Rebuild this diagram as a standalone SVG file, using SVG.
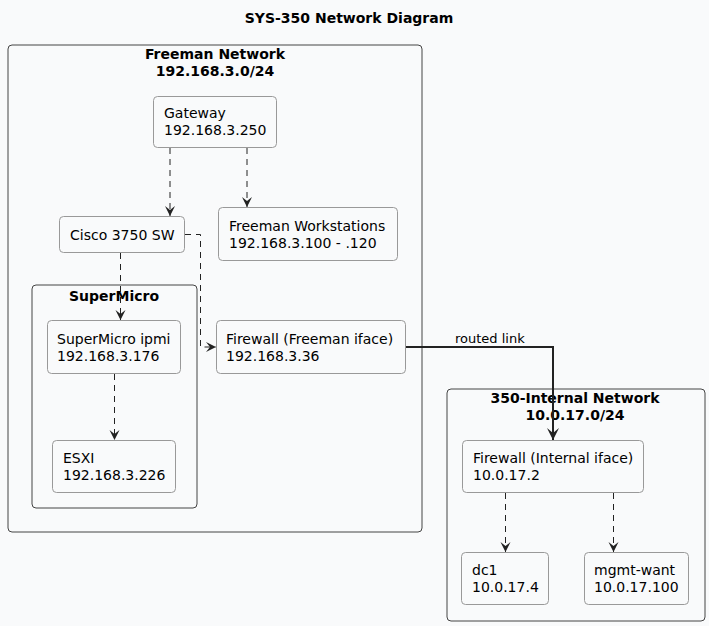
<svg xmlns="http://www.w3.org/2000/svg" width="709" height="626" viewBox="0 0 709 626">
<defs>
<style>
text{font-family:"DejaVu Sans","Liberation Sans",sans-serif;font-size:14px;fill:#000}
.b{font-weight:bold}
.title{font-weight:bold;font-size:14px}
.cl{fill:none;stroke:#444;stroke-width:1}
.nd{fill:#F9FAFB;stroke:#999;stroke-width:1}
.e{fill:none;stroke:#222;stroke-width:1;stroke-dasharray:6,5}
.s{fill:none;stroke:#222;stroke-width:2}
</style>
<marker id="a" markerUnits="userSpaceOnUse" markerWidth="14" markerHeight="14" viewBox="-12 -7 14 14" refX="0" refY="0" orient="auto">
<path d="M0,0 L-10,-5 L-6,0 L-10,5 Z" fill="#222"/>
</marker>
<marker id="a2" markerUnits="userSpaceOnUse" markerWidth="16" markerHeight="16" viewBox="-14 -8 16 16" refX="0" refY="0" orient="auto">
<path d="M0,0 L-12,-6 L-7,0 L-12,6 Z" fill="#222"/>
</marker>
</defs>
<rect width="709" height="626" fill="#F9FAFB"/>
<text class="title" x="349" y="23" text-anchor="middle">SYS-350 Network Diagram</text>

<g id="freeman-network">
<rect class="cl" x="8" y="45" width="414" height="487" rx="4"/>
<text class="b" x="215" y="59" text-anchor="middle">Freeman Network</text>
<text class="b" x="215" y="76" text-anchor="middle">192.168.3.0/24</text>
</g>
<g id="supermicro">
<rect class="cl" x="32" y="285" width="165" height="223" rx="4"/>
<text class="b" x="114" y="301" text-anchor="middle">SuperMicro</text>
</g>
<g id="internal-network">
<rect class="cl" x="447" y="389" width="258" height="232" rx="4"/>
<text class="b" x="575" y="403" text-anchor="middle">350-Internal Network</text>
<text class="b" x="575" y="420" text-anchor="middle">10.0.17.0/24</text>
</g>

<g id="gateway">
<rect class="nd" x="153.5" y="96.5" width="123" height="51" rx="4"/>
<text x="164" y="118">Gateway</text>
<text x="164" y="135">192.168.3.250</text>
</g>
<g id="cisco">
<rect class="nd" x="59.5" y="216.5" width="125" height="36" rx="4"/>
<text x="70" y="240">Cisco 3750 SW</text>
</g>
<g id="workstations">
<rect class="nd" x="218.5" y="207.5" width="179" height="53" rx="4"/>
<text x="229" y="231">Freeman Workstations</text>
<text x="229" y="248">192.168.3.100 - .120</text>
</g>
<g id="ipmi">
<rect class="nd" x="47.5" y="320.5" width="133" height="53" rx="4"/>
<text x="57" y="344">SuperMicro ipmi</text>
<text x="57" y="361">192.168.3.176</text>
</g>
<g id="esxi">
<rect class="nd" x="52.5" y="440.5" width="123" height="52" rx="4"/>
<text x="63" y="463">ESXI</text>
<text x="63" y="480">192.168.3.226</text>
</g>
<g id="fw-freeman">
<rect class="nd" x="216.5" y="320.5" width="189" height="53" rx="4"/>
<text x="226" y="344">Firewall (Freeman iface)</text>
<text x="226" y="361">192.168.3.36</text>
</g>
<g id="fw-internal">
<rect class="nd" x="462.5" y="440.5" width="181" height="52" rx="4"/>
<text x="473" y="463">Firewall (Internal iface)</text>
<text x="473" y="480">10.0.17.2</text>
</g>
<g id="dc1">
<rect class="nd" x="461.5" y="552.5" width="87" height="52" rx="4"/>
<text x="472" y="575">dc1</text>
<text x="472" y="592">10.0.17.4</text>
</g>
<g id="mgmt">
<rect class="nd" x="584.5" y="552.5" width="104" height="52" rx="4"/>
<text x="594" y="575">mgmt-want</text>
<text x="594" y="592">10.0.17.100</text>
</g>

<g id="connectors">
<path class="e" d="M170,148 V216" marker-end="url(#a)"/>
<path class="e" d="M247,148 V207" marker-end="url(#a)"/>
<path class="e" d="M120.5,253 V320" marker-end="url(#a)"/>
<path class="e" d="M185,234.5 H200.5 V347 H216" marker-end="url(#a)"/>
<path class="e" d="M114.5,374 V440" marker-end="url(#a)"/>
<path class="s" d="M406,347 H553 V440" marker-end="url(#a2)"/>
<text x="455" y="343" style="font-size:13px">routed link</text>
<path class="e" d="M505.5,493 V552" marker-end="url(#a)"/>
<path class="e" d="M613.5,493 V552" marker-end="url(#a)"/>
</g>
</svg>
